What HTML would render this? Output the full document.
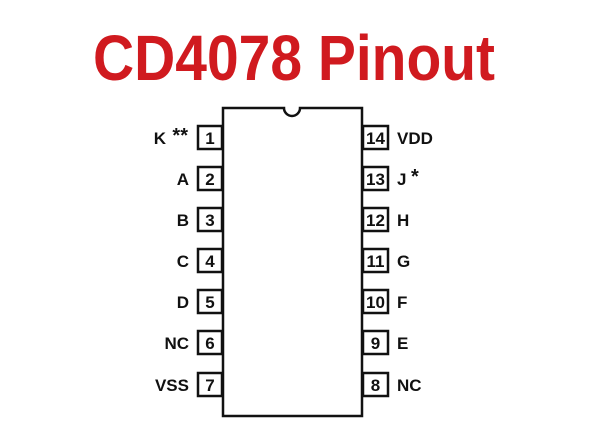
<!DOCTYPE html>
<html><head><style>html,body{margin:0;padding:0;background:#fff;}</style></head>
<body>
<svg width="602" height="436" xmlns="http://www.w3.org/2000/svg" style="display:block">
<text x="93" y="80" font-family="Liberation Sans, sans-serif" font-weight="bold" font-size="64" fill="#d01a1f" textLength="402" lengthAdjust="spacingAndGlyphs">CD4078 Pinout</text>
<g fill="#fff" stroke="#111" stroke-width="2.5">
<path d="M223 108 H284 A8 8 0 0 0 300 108 H362 V416 H223 Z"/>
<rect x="198" y="126" width="24" height="23"/><rect x="198" y="167" width="24" height="23"/>
<rect x="198" y="208" width="24" height="23"/><rect x="198" y="249" width="24" height="23"/>
<rect x="198" y="290" width="24" height="23"/><rect x="198" y="331" width="24" height="23"/>
<rect x="198" y="373" width="24" height="23"/>
<rect x="363" y="126" width="25" height="23"/><rect x="363" y="167" width="25" height="23"/>
<rect x="363" y="208" width="25" height="23"/><rect x="363" y="249" width="25" height="23"/>
<rect x="363" y="290" width="25" height="23"/><rect x="363" y="331" width="25" height="23"/>
<rect x="363" y="373" width="25" height="23"/>
</g>
<g font-family="Liberation Sans, sans-serif" font-weight="bold" font-size="17" fill="#111">
<g text-anchor="middle">
<text x="210" y="144">1</text><text x="210" y="185">2</text><text x="210" y="226">3</text><text x="210" y="267">4</text><text x="210" y="308">5</text><text x="210" y="349">6</text><text x="210" y="391">7</text>
<text x="375.5" y="144">14</text><text x="375.5" y="185">13</text><text x="375.5" y="226">12</text><text x="375.5" y="267">11</text><text x="375.5" y="308">10</text><text x="375.5" y="349">9</text><text x="375.5" y="391">8</text>
</g>
<g text-anchor="end">
<text x="166" y="144">K</text><text x="188" y="142" font-size="20">**</text>
<text x="189" y="185">A</text><text x="189" y="226">B</text><text x="189" y="267">C</text><text x="189" y="308">D</text><text x="189" y="349">NC</text><text x="189" y="391">VSS</text>
</g>
<text x="397" y="144">VDD</text><text x="397" y="185">J</text><text x="411" y="183" font-size="20">*</text>
<text x="397" y="226">H</text><text x="397" y="267">G</text><text x="397" y="308">F</text><text x="397" y="349">E</text><text x="397" y="391">NC</text>
</g>
</svg>
</body></html>
